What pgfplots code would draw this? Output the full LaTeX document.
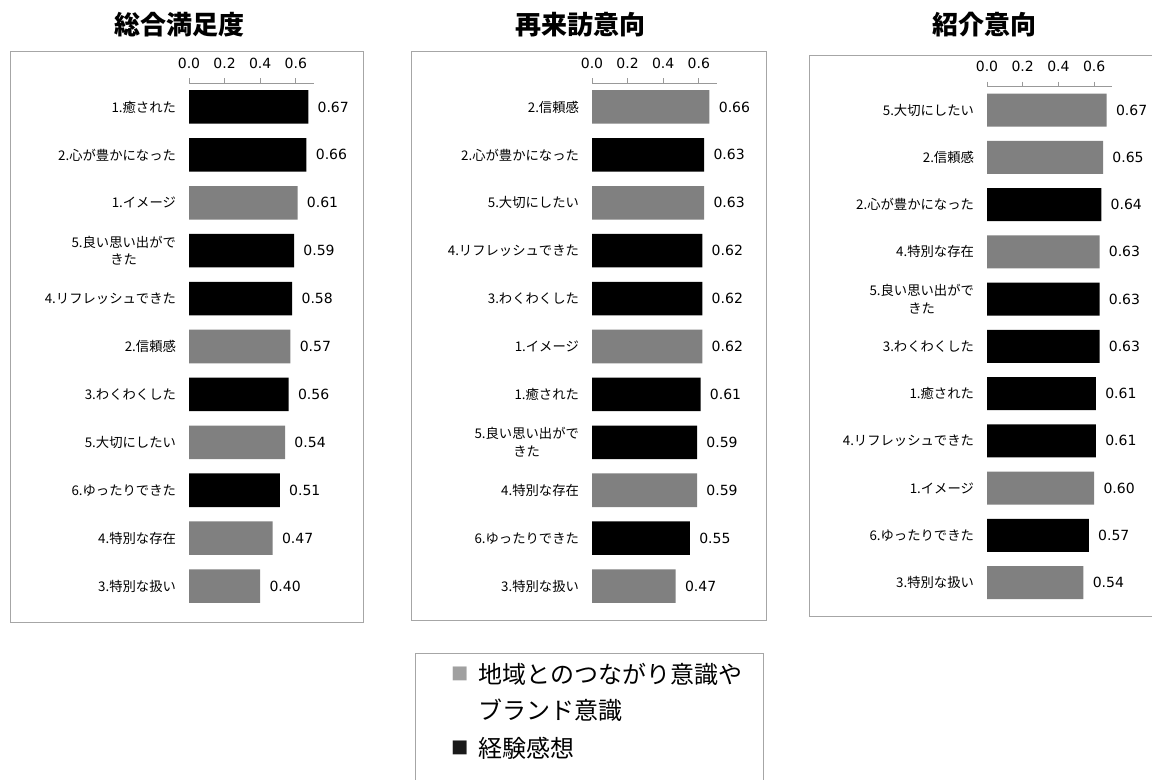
\documentclass[border=0pt]{standalone}
\usepackage{pgfplots}
\pgfplotsset{compat=1.18}
\usepackage{fontspec}
\setmainfont{DejaVu Sans}
\newfontfamily\cjk{Noto Sans CJK JP}
\definecolor{bargray}{HTML}{808080}
\definecolor{boxgray}{HTML}{A6A6A6}
\definecolor{leggray}{HTML}{A0A0A0}
\pgfplotsset{
  panel/.style={
    scale only axis, width=93.45pt, height=395.25pt,
    xmin=0, xmax=0.7, ymin=-0.5, ymax=10.5, y dir=reverse,
    axis x line*=top,
    y axis line style={draw=none}, ytick style={draw=none},
    x axis line style={draw=gray!80, line width=0.6pt},
    xtick={0,0.2,0.4,0.6}, tick align=outside, major tick length=3.75pt,
    xtick style={draw=gray!80, line width=0.6pt},
    xticklabel style={font=\fontsize{10.5}{12}\selectfont, text=black, yshift=3.5pt},
    /pgf/number format/.cd, fixed, fixed zerofill, precision=1, assume math mode=true, /pgfplots/.cd,
    ytick={0,...,10},
    yticklabel style={font=\cjk\fontsize{10}{13}\selectfont, align=center, xshift=-2.5pt},
    xbar, bar shift=0pt, bar width=0.7,
    point meta=x,
    nodes near coords={\pgfmathprintnumber[fixed,fixed zerofill,precision=2]{\pgfplotspointmeta}},
    nodes near coords style={anchor=west, xshift=3.5pt, font=\fontsize{10.5}{12}\selectfont, text=black},
    clip=false,
  },
  gbar/.style={fill=bargray, draw=none},
  kbar/.style={fill=black, draw=none},
}
\begin{document}
\begin{tikzpicture}
\path[use as bounding box] (0,0) rectangle ({1152*0.75pt},{-780*0.75pt});
% panel boxes
\draw[boxgray, line width=0.75pt] ({10*0.75pt},{-52*0.75pt}) rectangle ({363*0.75pt},{-622*0.75pt});
\draw[boxgray, line width=0.75pt] ({411.5*0.75pt},{-52*0.75pt}) rectangle ({766.5*0.75pt},{-620*0.75pt});
\draw[boxgray, line width=0.75pt] ({809*0.75pt},{-55.5*0.75pt}) rectangle ({1170*0.75pt},{-616*0.75pt});
% titles
\node[font=\cjk\bfseries\fontsize{19.5}{22}\selectfont] at ({179*0.75pt},{-25*0.75pt}) {総合満足度};
\node[font=\cjk\bfseries\fontsize{19.5}{22}\selectfont] at ({580*0.75pt},{-25*0.75pt}) {再来訪意向};
\node[font=\cjk\bfseries\fontsize{19.5}{22}\selectfont] at ({984*0.75pt},{-25*0.75pt}) {紹介意向};

% Panel 1
\begin{axis}[panel, at={({189*0.75pt},{-83*0.75pt})}, anchor=north west,
  yticklabels={1.癒された,2.心が豊かになった,1.イメージ,{5.良い思い出がで\\きた},4.リフレッシュできた,2.信頼感,3.わくわくした,5.大切にしたい,6.ゆったりできた,4.特別な存在,3.特別な扱い}]
\addplot[gbar] coordinates {(0.61,2) (0.57,5) (0.54,7) (0.47,9) (0.40,10)};
\addplot[kbar] coordinates {(0.67,0) (0.66,1) (0.59,3) (0.58,4) (0.56,6) (0.51,8)};
\end{axis}

% Panel 2
\begin{axis}[panel, at={({592*0.75pt},{-83*0.75pt})}, anchor=north west,
  yticklabels={2.信頼感,2.心が豊かになった,5.大切にしたい,4.リフレッシュできた,3.わくわくした,1.イメージ,1.癒された,{5.良い思い出がで\\きた},4.特別な存在,6.ゆったりできた,3.特別な扱い}]
\addplot[gbar] coordinates {(0.66,0) (0.63,2) (0.62,5) (0.59,8) (0.47,10)};
\addplot[kbar] coordinates {(0.63,1) (0.62,3) (0.62,4) (0.61,6) (0.59,7) (0.55,9)};
\end{axis}

% Panel 3
\begin{axis}[panel, width=93.75pt, height=389.8pt, at={({987*0.75pt},{-86.5*0.75pt})}, anchor=north west,
  yticklabels={5.大切にしたい,2.信頼感,2.心が豊かになった,4.特別な存在,{5.良い思い出がで\\きた},3.わくわくした,1.癒された,4.リフレッシュできた,1.イメージ,6.ゆったりできた,3.特別な扱い}]
\addplot[gbar] coordinates {(0.67,0) (0.65,1) (0.63,3) (0.60,8) (0.54,10)};
\addplot[kbar] coordinates {(0.64,2) (0.63,4) (0.63,5) (0.61,6) (0.61,7) (0.57,9)};
\end{axis}

% legend
\draw[boxgray, line width=0.75pt] ({415*0.75pt},{-653*0.75pt}) rectangle ({763*0.75pt},{-800*0.75pt});
\node[font=\cjk\fontsize{13}{15}\selectfont, text=leggray] at ({460.5*0.75pt},{-674*0.75pt}) {■};
\node[font=\cjk\fontsize{13}{15}\selectfont, text=black!90] at ({460.5*0.75pt},{-748*0.75pt}) {■};
\node[font=\cjk\fontsize{18}{21}\selectfont, anchor=west, inner sep=0pt] at ({478*0.75pt},{-674*0.75pt}) {地域とのつながり意識や};
\node[font=\cjk\fontsize{18}{21}\selectfont, anchor=west, inner sep=0pt] at ({478*0.75pt},{-710*0.75pt}) {ブランド意識};
\node[font=\cjk\fontsize{18}{21}\selectfont, anchor=west, inner sep=0pt] at ({478*0.75pt},{-748*0.75pt}) {経験感想};
\end{tikzpicture}
\end{document}
